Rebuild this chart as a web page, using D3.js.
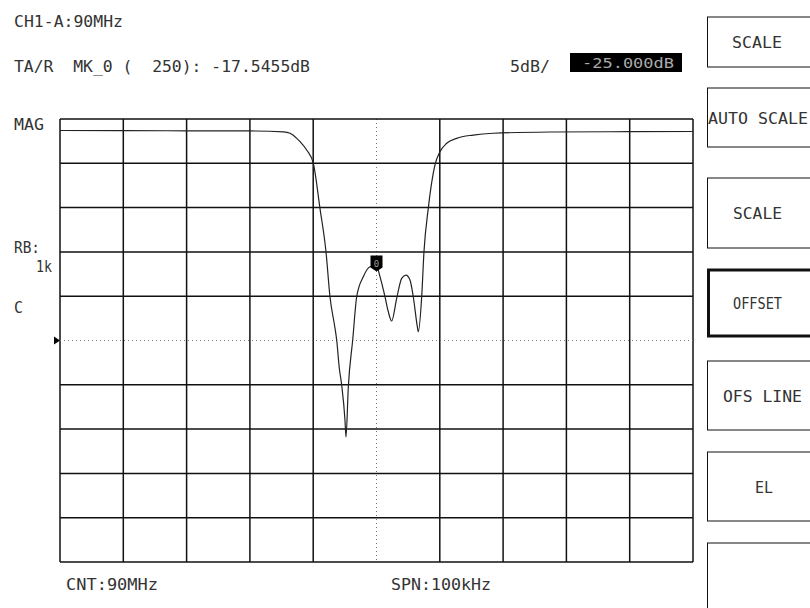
<!DOCTYPE html>
<html>
<head>
<meta charset="utf-8">
<script src="https://cdn.jsdelivr.net/npm/d3@7"></script>
<style>
  html, body { margin: 0; padding: 0; background: #fff; }
  svg { display: block; }
  text { font-family: "DejaVu Sans Mono", "Liberation Mono", monospace; fill: #333; white-space: pre; }
</style>
</head>
<body>
<svg id="chart" width="810" height="608"></svg>
<script>
// ---- data ----
const centerMHz = 90;            // CNT
const spanKHz = 100;             // SPN
const refLevelDB = -26;          // reference level at centre line
const dbPerDiv = 5;              // 5dB/
const freqKHz = [-50, -40, -30, -20, -14.7, -13.66, -12.6, -12.08, -11.03, -9.98, -8.93, -7.98, -7.35, -6.56, -6.29, -5.88, -5.5, -4.98, -4.82, -4.45, -3.76, -3.13, -2.09, -1.03, 0, 0.55, 1.34, 1.86, 2.40, 3.19, 3.98, 4.66, 5.29, 5.81, 6.45, 6.60, 7.14, 7.50, 8.18, 9.24, 10.03, 11.09, 12.67, 15.29, 18.45, 27.4, 40, 50];
const magDB   = [-2.30, -2.31, -2.33, -2.35, -2.45, -2.61, -3.18, -3.56, -4.50, -6.00, -11.08, -15.98, -21.06, -24.59, -25.94, -29.1, -31.02, -34.97, -36.89, -31.21, -25.94, -21.06, -18.80, -17.67, -17.55, -18.80, -21.06, -22.75, -23.80, -21.24, -18.98, -18.61, -19.17, -21.06, -24.44, -25.01, -21.06, -15.98, -11.08, -6.19, -4.69, -3.74, -3.18, -2.81, -2.61, -2.47, -2.43, -2.41];
const markerKHz = 0;
const markerDB = -17.5455;
const headerLines = ["CH1-A:90MHz", "TA/R  MK_0 (  250): -17.5455dB"];
const scaleLabel = "5dB/";
const offsetLabel = "-25.000dB";
const sideLabels = ["MAG", "RB:", "1k", "C"];
const footerLabels = ["CNT:90MHz", "SPN:100kHz"];
const softKeys = ["SCALE", "AUTO SCALE", "SCALE", "OFFSET", "OFS LINE", "EL", ""];

// ---- layout ----
const svg = d3.select("#chart");
const plot = { left: 60, right: 693, top: 119, bottom: 562 };
const x = d3.scaleLinear().domain([-spanKHz / 2, spanKHz / 2]).range([plot.left, plot.right]);
const y = d3.scaleLinear()
  .domain([refLevelDB + 5 * dbPerDiv, refLevelDB - 5 * dbPerDiv])
  .range([plot.top, plot.bottom]);

// grid
const xTicks = d3.range(-spanKHz / 2, spanKHz / 2 + 0.001, spanKHz / 10);
const yTicks = d3.range(0, 11).map(i => refLevelDB + 5 * dbPerDiv - i * dbPerDiv);

const grid = svg.append("g");
grid.selectAll("line.v").data(xTicks).join("line")
  .attr("x1", d => x(d)).attr("x2", d => x(d))
  .attr("y1", plot.top).attr("y2", plot.bottom)
  .attr("stroke", d => Math.abs(d) < 1e-6 ? "#777" : "#111")
  .attr("stroke-width", d => Math.abs(d) < 1e-6 ? 1 : 1.5)
  .attr("stroke-dasharray", d => Math.abs(d) < 1e-6 ? "1,3" : null);
grid.selectAll("line.h").data(yTicks).join("line")
  .attr("x1", plot.left).attr("x2", plot.right)
  .attr("y1", d => y(d)).attr("y2", d => y(d))
  .attr("stroke", d => Math.abs(d - refLevelDB) < 1e-6 ? "#777" : "#111")
  .attr("stroke-width", d => Math.abs(d - refLevelDB) < 1e-6 ? 1 : 1.5)
  .attr("stroke-dasharray", d => Math.abs(d - refLevelDB) < 1e-6 ? "1,3" : null);

// reference position triangle
const ry = y(refLevelDB);
svg.append("path")
  .attr("d", `M${plot.left - 6},${ry - 4}L${plot.left},${ry}L${plot.left - 6},${ry + 4}Z`)
  .attr("fill", "#000");

// trace
const line = d3.line().curve(d3.curveMonotoneX).x((d, i) => x(freqKHz[i])).y(d => y(d));
svg.append("path")
  .datum(magDB)
  .attr("d", line)
  .attr("fill", "none")
  .attr("stroke", "#222")
  .attr("stroke-width", 1.2);

// marker
const mx = x(markerKHz), my = y(markerDB);
svg.append("path")
  .attr("d", `M${mx - 6},${my - 10}L${mx + 6},${my - 10}L${mx + 6},${my + 2}L${mx},${my + 6}L${mx - 6},${my + 2}Z`)
  .attr("fill", "#000");
svg.append("text").attr("x", mx).attr("y", my + 1)
  .attr("text-anchor", "middle").style("font-size", "9px").style("fill", "#999").text("0");

// header texts
function label(t, x0, yb, len, size) {
  return svg.append("text").attr("x", x0).attr("y", yb)
    .attr("textLength", len).attr("lengthAdjust", "spacingAndGlyphs")
    .style("font-size", (size || 15) + "px").text(t);
}
label(headerLines[0], 14, 26.5, 109);
label(headerLines[1], 14, 71.5, 296);
label(scaleLabel, 510, 71.5, 40);
svg.append("rect").attr("x", 570).attr("y", 53).attr("width", 112).attr("height", 19).attr("fill", "#000");
label(offsetLabel, 582, 68, 92, 14).style("fill", "#aaa");

label(sideLabels[0], 14, 129.5, 30);
label(sideLabels[1], 14, 252.5, 26);
label(sideLabels[2], 36, 272, 16);
label(sideLabels[3], 14, 312.5, 9);

label(footerLabels[0], 66, 590, 92);
label(footerLabels[1], 391, 590, 100);

// soft keys
const keyTops = [17, 88, 178, 269, 361, 452, 543];
const keyBottoms = [67, 147, 248, 337, 430, 521, 640];
const keyTextX = [732, 708, 733, 733, 723, 755, 0];
const keyTextLen = [50, 100, 49, 49, 79, 18, 0];
softKeys.forEach((k, i) => {
  const thick = k === "OFFSET";
  svg.append("rect")
    .attr("x", 707.5 + (thick ? 1 : 0)).attr("y", keyTops[i] + (thick ? 1 : 0))
    .attr("width", 130).attr("height", keyBottoms[i] - keyTops[i] - (thick ? 2 : 0))
    .attr("fill", "none").attr("stroke", "#111").attr("stroke-width", thick ? 3 : 1);
  if (k) {
    const cy = (keyTops[i] + Math.min(keyBottoms[i], 608)) / 2;
    label(k, keyTextX[i], cy + 6, keyTextLen[i]);
  }
});
</script>
</body>
</html>
